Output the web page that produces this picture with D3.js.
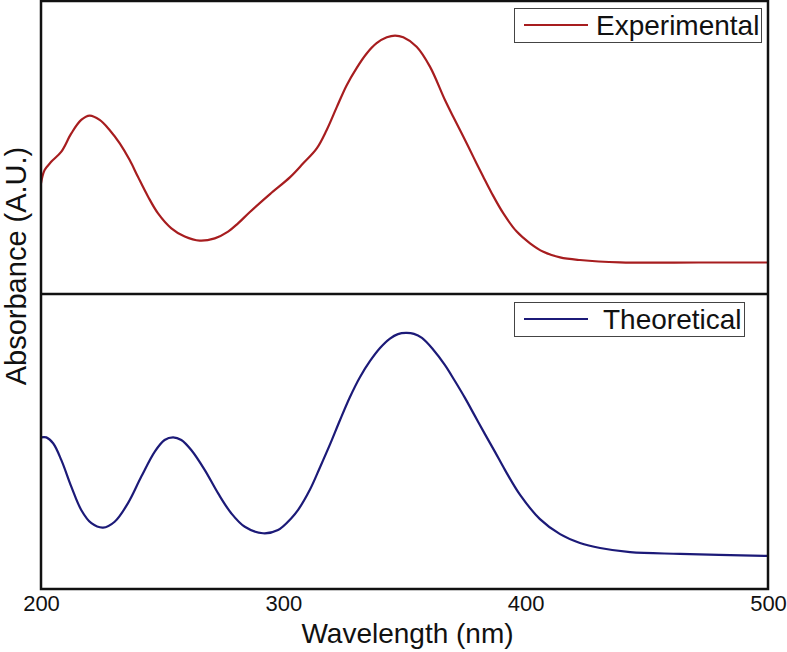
<!DOCTYPE html>
<html><head><meta charset="utf-8">
<script src="https://cdn.jsdelivr.net/npm/d3@7"></script>
<style>body{margin:0;background:#fff}svg{display:block}text{font-family:"Liberation Sans",Arial,sans-serif}</style>
</head><body>
<script>
const xTicks = [200, 300, 400, 500];
const seriesNames = ["Experimental", "Theoretical"];
const expWavelength = [200,201.5,204.3,208.4,212.5,216.6,220.1,224.2,228.3,232.5,236.6,240,244.2,248.3,253.8,259.3,265.5,271.7,277.2,281.3,286.2,294.5,302.8,308.2,313.8,317.9,322,326.1,330.3,334.4,338.5,342.7,346.1,349.5,355,360.5,366.7,370.1,374.3,378.4,382.5,386,390.8,396.3,401.8,407.3,414.2,422.4,438.9,471.9,500];
const expAbsorbance = [0.378,0.423,0.452,0.486,0.548,0.594,0.609,0.594,0.56,0.514,0.457,0.4,0.332,0.275,0.224,0.196,0.182,0.19,0.213,0.241,0.28,0.341,0.399,0.446,0.497,0.56,0.637,0.712,0.772,0.821,0.856,0.876,0.882,0.876,0.844,0.776,0.662,0.605,0.537,0.468,0.4,0.344,0.275,0.213,0.173,0.144,0.125,0.116,0.108,0.1075,0.1075];
const theoWavelength = [200,202.2,205,208.4,212.5,216.6,220.8,225.6,230.4,235.9,241.4,246.9,251,254.5,257.9,262,267.6,273.1,278.5,284.1,291.6,297.8,303.3,306.1,311,315.1,319.3,323.4,327.5,331.6,335.8,339.9,344,347.3,350.6,353.9,357.2,361.8,366.7,370.8,375,379.1,383.2,387.4,391.5,397.7,405.9,414.2,422.4,430.7,443.1,463.7,500];
const theoAbsorbance = [0.514,0.514,0.494,0.437,0.347,0.268,0.223,0.208,0.228,0.291,0.381,0.465,0.505,0.514,0.505,0.471,0.403,0.324,0.257,0.211,0.189,0.2,0.24,0.268,0.337,0.412,0.491,0.573,0.651,0.718,0.773,0.817,0.849,0.864,0.868,0.865,0.851,0.812,0.759,0.705,0.647,0.586,0.525,0.464,0.403,0.319,0.237,0.186,0.156,0.139,0.125,0.119,0.112];

const W = 787, H = 652;
const pL = 41, pR = 768, pT = 1, pM = 294, pB = 589;
const svg = d3.select("body").append("svg").attr("width", W).attr("height", H);

const x = d3.scaleLinear().domain([200, 500]).range([pL, pR]);
const yTop = d3.scaleLinear().domain([0, 1]).range([pM, pT]);
const yBot = d3.scaleLinear().domain([0, 1]).range([pB, pM]);

const panels = [
  {wl: expWavelength, ab: expAbsorbance, y: yTop, color: "#a71d1f", name: seriesNames[0], box: {x: 514, y: 8, w: 247, h: 34}, textX: 596},
  {wl: theoWavelength, ab: theoAbsorbance, y: yBot, color: "#1c1a78", name: seriesNames[1], box: {x: 514, y: 302, w: 230, h: 34}, textX: 603}
];

panels.forEach(p => {
  const pts = p.wl.map((w, i) => [w, p.ab[i]]);
  const line = d3.line().x(d => x(d[0])).y(d => p.y(d[1])).curve(d3.curveCatmullRom.alpha(0.5));
  svg.append("path").datum(pts).attr("d", line).attr("fill", "none")
    .attr("stroke", p.color).attr("stroke-width", 2.2).attr("stroke-linejoin", "round");
  const g = svg.append("g");
  g.append("rect").attr("x", p.box.x + 0.5).attr("y", p.box.y + 0.5).attr("width", p.box.w).attr("height", p.box.h)
    .attr("fill", "#fff").attr("stroke", "#444").attr("stroke-width", 1);
  const ly = p.box.y + p.box.h / 2;
  g.append("line").attr("x1", 524).attr("x2", 588).attr("y1", ly).attr("y2", ly)
    .attr("stroke", p.color).attr("stroke-width", 2);
  g.append("text").attr("x", p.textX).attr("y", ly + 10).attr("font-size", 28).attr("fill", "#111").text(p.name);
});

// frame
svg.append("rect").attr("x", pL).attr("y", pT).attr("width", pR - pL).attr("height", pB - pT)
  .attr("fill", "none").attr("stroke", "#111").attr("stroke-width", 2.5);
svg.append("line").attr("x1", pL).attr("x2", pR).attr("y1", pM).attr("y2", pM)
  .attr("stroke", "#111").attr("stroke-width", 2.5);

// x axis labels
const xAxis = d3.axisBottom(x).tickValues(xTicks).tickSize(0).tickPadding(6).tickFormat(d3.format("d"));
const gx = svg.append("g").attr("transform", `translate(0,${pB})`).call(xAxis);
gx.select(".domain").remove();
gx.selectAll("text").attr("font-size", 22).attr("fill", "#111").attr("font-family", '"Liberation Sans",Arial,sans-serif');

svg.append("text").attr("x", (pL + pR) / 2 + 3).attr("y", 643).attr("text-anchor", "middle")
  .attr("font-size", 28).attr("fill", "#111").text("Wavelength (nm)");
svg.append("text").attr("transform", `translate(26,266) rotate(-90)`).attr("text-anchor", "middle")
  .attr("font-size", 29).attr("fill", "#111").text("Absorbance (A.U.)");
</script>
</body></html>
